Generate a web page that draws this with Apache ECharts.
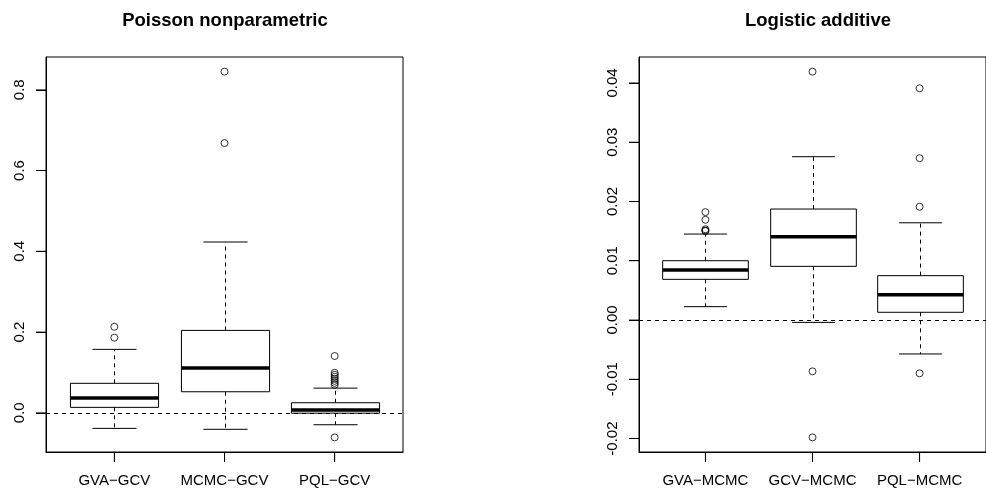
<!DOCTYPE html>
<html>
<head>
<meta charset="utf-8">
<script src="https://cdn.jsdelivr.net/npm/echarts@6/dist/echarts.min.js"></script>
<style>
html,body{margin:0;padding:0;background:#fff;}
#c{width:986px;height:492px;}
</style>
</head>
<body>
<div id="c"></div>
<script>
// ---- Data: Poisson nonparametric ----
const poissonTitle = 'Poisson nonparametric';
const poissonCats = ['GVA\u2212GCV', 'MCMC\u2212GCV', 'PQL\u2212GCV'];
const poissonLower  = [-0.0387, -0.041, -0.0297];
const poissonQ1     = [0.0134, 0.052, -0.001];
const poissonMedian = [0.0364, 0.111, 0.0067];
const poissonQ3     = [0.0729, 0.204, 0.0248];
const poissonUpper  = [0.157, 0.423, 0.061];
const poissonOutliers = [
  [0, 0.213], [0, 0.186],
  [1, 0.845], [1, 0.668],
  [2, 0.1405], [2, 0.099], [2, 0.094], [2, 0.089], [2, 0.084], [2, 0.079], [2, 0.074], [2, 0.069], [2, -0.061]
];
const poissonTicks = [0.0, 0.2, 0.4, 0.6, 0.8];

// ---- Data: Logistic additive ----
const logisticTitle = 'Logistic additive';
const logisticCats = ['GVA\u2212MCMC', 'GCV\u2212MCMC', 'PQL\u2212MCMC'];
const logisticLower  = [0.00225, -0.0004, -0.00573];
const logisticQ1     = [0.00686, 0.00905, 0.0013];
const logisticMedian = [0.00843, 0.01405, 0.00427];
const logisticQ3     = [0.0100, 0.01872, 0.00748];
const logisticUpper  = [0.0145, 0.02755, 0.0164];
const logisticOutliers = [
  [0, 0.0182], [0, 0.0169], [0, 0.0153], [0, 0.0151], [0, 0.0150],
  [1, 0.0419], [1, -0.00866], [1, -0.0198],
  [2, 0.0391], [2, 0.0273], [2, 0.0191], [2, -0.00899]
];
const logisticTicks = [-0.02, -0.01, 0.00, 0.01, 0.02, 0.03, 0.04];

const categoryPositions = [1, 2, 3];

const FONT = "'Liberation Sans', Arial, Helvetica, sans-serif";
const TICK_LEN = 10;
const X_MIN = 0.38, X_MAX = 3.62;
const P_MIN = -0.0972, P_MAX = 0.8812;
const L_MIN = -0.02227, L_MAX = 0.04437;

function boxData(lower, q1, med, q3, upper) {
  return lower.map((v, i) => [i + 1, lower[i], q1[i], med[i], q3[i], upper[i]]);
}

function renderBox(params, api) {
  const x = api.value(0);
  const lo = api.coord([x, api.value(1)]);
  const b1 = api.coord([x, api.value(2)]);
  const md = api.coord([x, api.value(3)]);
  const b3 = api.coord([x, api.value(4)]);
  const hi = api.coord([x, api.value(5)]);
  const half = api.size([0.4, 0])[0];
  const cap = half / 2;
  const cx = Math.round(lo[0]) + 0.5;
  const stroke = '#000';
  const dash = [4, 4];
  return {
    type: 'group',
    children: [
      { type: 'line', shape: { x1: cx, y1: b3[1], x2: cx, y2: hi[1] }, style: { stroke, lineWidth: 1, lineDash: dash } },
      { type: 'line', shape: { x1: cx, y1: b1[1], x2: cx, y2: lo[1] }, style: { stroke, lineWidth: 1, lineDash: dash } },
      { type: 'line', shape: { x1: cx - cap, y1: hi[1], x2: cx + cap, y2: hi[1] }, style: { stroke, lineWidth: 1 } },
      { type: 'line', shape: { x1: cx - cap, y1: lo[1], x2: cx + cap, y2: lo[1] }, style: { stroke, lineWidth: 1 } },
      { type: 'rect', shape: { x: cx - half, y: b3[1], width: 2 * half, height: b1[1] - b3[1] }, style: { fill: 'rgba(0,0,0,0)', stroke, lineWidth: 1 } },
      { type: 'line', shape: { x1: cx - half, y1: md[1], x2: cx + half, y2: md[1] }, style: { stroke, lineWidth: 3.5 } }
    ]
  };
}

function xAxisFor(gridIndex, cats) {
  return {
    type: 'value', gridIndex, min: X_MIN, max: X_MAX, position: 'bottom',
    splitLine: { show: false },
    axisLine: { show: true, onZero: false, lineStyle: { color: '#000', width: 1 } },
    axisTick: { show: true, inside: false, length: TICK_LEN, customValues: categoryPositions, lineStyle: { color: '#000', width: 1 } },
    axisLabel: { show: true, margin: 21, customValues: categoryPositions, color: '#000', fontSize: 15, fontFamily: FONT,
      formatter: v => cats[Math.round(v) - 1] || '' }
  };
}

function yAxisFor(gridIndex, min, max, ticks, decimals) {
  return {
    type: 'value', gridIndex, min, max, position: 'left',
    splitLine: { show: false },
    axisLine: { show: true, onZero: false, lineStyle: { color: '#000', width: 1 } },
    axisTick: { show: true, inside: false, length: TICK_LEN, customValues: ticks, lineStyle: { color: '#000', width: 1 } },
    axisLabel: { show: true, rotate: 90, margin: 19, customValues: ticks, color: '#000', fontSize: 15, fontFamily: FONT,
      formatter: v => Number(v).toFixed(decimals) }
  };
}

function outlierSeries(idx, pts) {
  return {
    type: 'scatter', xAxisIndex: idx, yAxisIndex: idx,
    data: pts.map(p => [p[0] + 1, p[1]]),
    symbol: 'circle', symbolSize: 7,
    itemStyle: { color: 'rgba(0,0,0,0)', borderColor: '#000', borderWidth: 1 },
    silent: true,
    markLine: {
      silent: true, symbol: ['none', 'none'],
      label: { show: false },
      lineStyle: { color: '#000', width: 1, type: [4, 4] },
      data: [{ yAxis: 0 }]
    },
    z: 3
  };
}

// tick marks as thin rectangle symbols placed by the axes' scales
function yTickMarks(idx, ticks) {
  return {
    type: 'scatter', xAxisIndex: idx, yAxisIndex: idx, clip: false, silent: true, z: 6,
    data: ticks.map(v => [X_MIN, v]),
    symbol: 'rect', symbolSize: [TICK_LEN, 1], symbolOffset: [-TICK_LEN / 2, 0],
    itemStyle: { color: '#000', borderWidth: 0 }
  };
}
function xTickMarks(idx, yMin) {
  return {
    type: 'scatter', xAxisIndex: idx, yAxisIndex: idx, clip: false, silent: true, z: 6,
    data: categoryPositions.map(v => [v, yMin]),
    symbol: 'rect', symbolSize: [1, TICK_LEN], symbolOffset: [0, TICK_LEN / 2],
    itemStyle: { color: '#000', borderWidth: 0 }
  };
}

const chart = echarts.init(document.getElementById('c'), null, { renderer: 'canvas' });
chart.setOption({
  animation: false,
  backgroundColor: '#fff',
  textStyle: { fontFamily: FONT },
  title: [
    { text: poissonTitle, left: 220, top: 6, textAlign: 'center',
      textStyle: { fontSize: 18.5, fontWeight: 'bold', color: '#000', fontFamily: FONT } },
    { text: logisticTitle, left: 813, top: 6, textAlign: 'center',
      textStyle: { fontSize: 18.5, fontWeight: 'bold', color: '#000', fontFamily: FONT } }
  ],
  grid: [
    { left: 46, top: 57, width: 357, height: 395, show: true, borderColor: '#000', borderWidth: 1, backgroundColor: 'transparent' },
    { left: 639, top: 57, width: 357, height: 395, show: true, borderColor: '#000', borderWidth: 1, backgroundColor: 'transparent' }
  ],
  xAxis: [xAxisFor(0, poissonCats), xAxisFor(1, logisticCats)],
  yAxis: [
    yAxisFor(0, P_MIN, P_MAX, poissonTicks, 1),
    yAxisFor(1, L_MIN, L_MAX, logisticTicks, 2)
  ],
  series: [
    { type: 'custom', xAxisIndex: 0, yAxisIndex: 0, renderItem: renderBox,
      data: boxData(poissonLower, poissonQ1, poissonMedian, poissonQ3, poissonUpper), z: 2, silent: true },
    outlierSeries(0, poissonOutliers),
    yTickMarks(0, poissonTicks),
    xTickMarks(0, P_MIN),
    { type: 'custom', xAxisIndex: 1, yAxisIndex: 1, renderItem: renderBox,
      data: boxData(logisticLower, logisticQ1, logisticMedian, logisticQ3, logisticUpper), z: 2, silent: true },
    outlierSeries(1, logisticOutliers),
    yTickMarks(1, logisticTicks),
    xTickMarks(1, L_MIN)
  ]
});
</script>
</body>
</html>
